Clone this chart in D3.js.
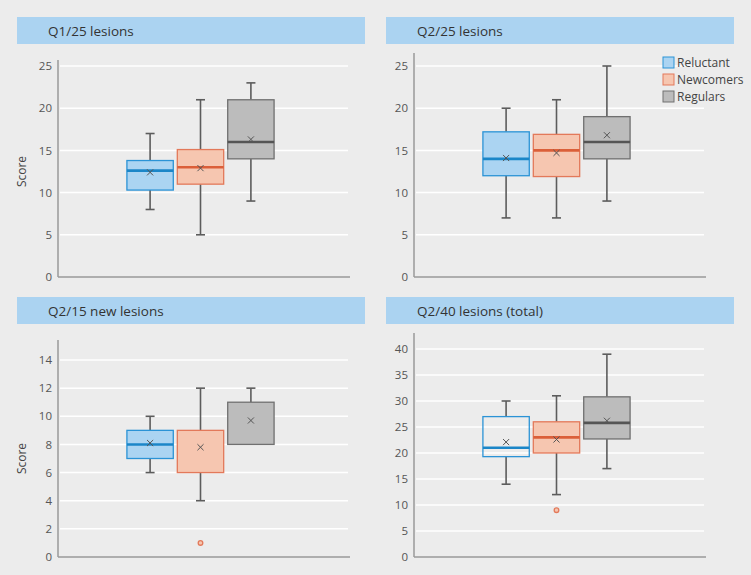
<!DOCTYPE html>
<html>
<head>
<meta charset="utf-8">
<script src="https://cdn.jsdelivr.net/npm/d3@7"></script>
<style>
  body { margin: 0; background: #ececec; }
  svg { display: block; }
</style>
</head>
<body>
<div id="chart"></div>
<script>
(function() {
  const width = 751
  const height = 575

  // groups and their colours
  const groups = ['Reluctant', 'Newcomers', 'Regulars']
  const fills = ['#abd4f2', '#f6c6b0', '#bcbcbc']
  const strokes = ['#2b93d6', '#e3795a', '#707070']
  const medianColors = ['#1b86c8', '#db5f39', '#555555']

  // panel titles and y ticks
  const titles = ['Q1/25 lesions', 'Q2/25 lesions', 'Q2/15 new lesions', 'Q2/40 lesions (total)']
  const yMaxes = [25, 25, 14, 40]
  const yTicks = [
    [0, 5, 10, 15, 20, 25],
    [0, 5, 10, 15, 20, 25],
    [0, 2, 4, 6, 8, 10, 12, 14],
    [0, 5, 10, 15, 20, 25, 30, 35, 40]
  ]

  // box stats per panel, one entry per group: [min, q1, median, q3, max]
  const q1_25 = [[8, 10.3, 12.6, 13.8, 17], [5, 11, 13, 15.1, 21], [9, 14, 16, 21, 23]]
  const q2_25 = [[7, 12, 14, 17.2, 20], [7, 11.9, 15, 16.9, 21], [9, 14, 16, 19, 25]]
  const q2_15 = [[6, 7, 8, 9, 10], [4, 6, 6, 9, 12], [8, 8, 8, 11, 12]]
  const q2_40 = [[14, 19.3, 21, 27, 30], [12, 20, 23, 26, 31], [17, 22.7, 25.8, 30.8, 39]]
  const stats = [q1_25, q2_25, q2_15, q2_40]

  // means (×) per panel
  const means = [[12.4, 12.9, 16.3], [14.1, 14.7, 16.8], [8.1, 7.8, 9.7], [22.1, 22.6, 26.2]]
  // outliers per panel: [groupIndex, value]
  const outliers = [[], [], [[1, 1]], [[1, 9]]]
  // Reluctant box in the last panel has no fill
  const noFill = [[], [], [], [0]]

  // panel geometry
  const panels = [
    { hx: 17, hy: 17, ax: 58, bottom: 277, top: 66, axisTop: 60, showScore: true },
    { hx: 386, hy: 17, ax: 414, bottom: 277, top: 66, axisTop: 53, showScore: false },
    { hx: 17, hy: 297, ax: 58, bottom: 557, top: 360, axisTop: 340, showScore: true },
    { hx: 386, hy: 297, ax: 414, bottom: 557, top: 349, axisTop: 333, showScore: false }
  ]
  const headerW = 348, headerH = 27, plotW = 292

  const svg = d3.select('#chart').append('svg')
      .attr('width', width)
      .attr('height', height)
      .attr('font-family', '"Open Sans", "Noto Sans", sans-serif')

  svg.append('rect').attr('width', width).attr('height', height).attr('fill', '#ececec')

  panels.forEach((p, i) => {
    const g = svg.append('g')

    // header band
    g.append('rect')
        .attr('x', p.hx).attr('y', p.hy)
        .attr('width', headerW).attr('height', headerH)
        .attr('fill', '#abd3f1')
    g.append('text')
        .attr('x', p.hx + 31).attr('y', p.hy + 18.5)
        .attr('font-size', 13.5)
        .attr('fill', '#333')
        .text(titles[i])

    const y = d3.scaleLinear().domain([0, yMaxes[i]]).range([p.bottom, p.top])
    const x = d3.scaleBand().domain(groups)
        .range([p.ax + plotW * 0.236, p.ax + plotW * 0.74])
        .paddingInner(0.08)

    // grid lines
    g.append('g').selectAll('line')
      .data(yTicks[i].filter(t => t > 0))
      .enter().append('line')
        .attr('x1', p.ax + 2).attr('x2', p.ax + plotW - 2)
        .attr('y1', d => y(d)).attr('y2', d => y(d))
        .attr('stroke', '#fff').attr('stroke-width', 1.5)

    // y axis
    const axis = g.append('g')
        .attr('transform', `translate(${p.ax},0)`)
        .call(d3.axisLeft(y).tickValues(yTicks[i]).tickSize(0).tickPadding(6))
    axis.select('.domain').remove()
    axis.selectAll('text').attr('font-size', 11.5).attr('fill', '#555').attr('font-family', '"Open Sans", sans-serif')

    g.append('line')
        .attr('x1', p.ax).attr('x2', p.ax)
        .attr('y1', p.axisTop).attr('y2', p.bottom)
        .attr('stroke', '#9a9a9a').attr('stroke-width', 1.5)
    g.append('line')
        .attr('x1', p.ax).attr('x2', p.ax + plotW)
        .attr('y1', p.bottom).attr('y2', p.bottom)
        .attr('stroke', '#9a9a9a').attr('stroke-width', 1.5)

    if (p.showScore) {
      g.append('text')
          .attr('transform', `translate(${p.ax - 32},${(p.bottom + p.top) / 2}) rotate(-90)`)
          .attr('text-anchor', 'middle')
          .attr('font-size', 12)
          .attr('fill', '#444')
          .text('Score')
    }

    // boxes
    const box = g.append('g').selectAll('g')
      .data(stats[i].map((s, k) => ({ s, k, name: groups[k] })))
      .enter().append('g')

    const cx = d => x(d.name) + x.bandwidth() / 2
    const capW = 4.5

    // whiskers
    box.append('line')
        .attr('x1', cx).attr('x2', cx)
        .attr('y1', d => y(d.s[0])).attr('y2', d => y(d.s[1]))
        .attr('stroke', '#5c5c5c').attr('stroke-width', 1.6)
    box.append('line')
        .attr('x1', cx).attr('x2', cx)
        .attr('y1', d => y(d.s[3])).attr('y2', d => y(d.s[4]))
        .attr('stroke', '#5c5c5c').attr('stroke-width', 1.6)
    box.filter(d => d.s[0] < d.s[1]).append('line')
        .attr('x1', d => cx(d) - capW).attr('x2', d => cx(d) + capW)
        .attr('y1', d => y(d.s[0])).attr('y2', d => y(d.s[0]))
        .attr('stroke', '#5c5c5c').attr('stroke-width', 1.6)
    box.filter(d => d.s[4] > d.s[3]).append('line')
        .attr('x1', d => cx(d) - capW).attr('x2', d => cx(d) + capW)
        .attr('y1', d => y(d.s[4])).attr('y2', d => y(d.s[4]))
        .attr('stroke', '#5c5c5c').attr('stroke-width', 1.6)

    box.append('rect')
        .attr('x', d => x(d.name))
        .attr('width', x.bandwidth())
        .attr('y', d => y(d.s[3]))
        .attr('height', d => y(d.s[1]) - y(d.s[3]))
        .attr('fill', d => noFill[i].includes(d.k) ? 'none' : fills[d.k])
        .attr('stroke', d => strokes[d.k])
        .attr('stroke-width', 1.3)

    // median (hidden under the box edge when it equals a quartile)
    box.filter(d => d.s[2] !== d.s[1] && d.s[2] !== d.s[3]).append('line')
        .attr('x1', d => x(d.name)).attr('x2', d => x(d.name) + x.bandwidth())
        .attr('y1', d => y(d.s[2])).attr('y2', d => y(d.s[2]))
        .attr('stroke', d => medianColors[d.k]).attr('stroke-width', 2.6)

    // mean marker
    box.append('path')
        .attr('transform', d => `translate(${cx(d)},${y(means[i][d.k])})`)
        .attr('d', d3.symbol(d3.symbolX, 26))
        .attr('fill', 'none')
        .attr('stroke', '#555').attr('stroke-width', 1)

    // outliers
    g.append('g').selectAll('circle')
      .data(outliers[i])
      .enter().append('circle')
        .attr('cx', d => x(groups[d[0]]) + x.bandwidth() / 2)
        .attr('cy', d => y(d[1]))
        .attr('r', 2.3)
        .attr('fill', '#f6c6b0')
        .attr('stroke', '#e3795a').attr('stroke-width', 1.3)
  })

  // legend in the second panel
  const legend = svg.append('g')
    .selectAll('g')
    .data(groups)
    .enter().append('g')
      .attr('transform', (d, k) => `translate(663,${57 + k * 17})`)
  legend.append('rect')
      .attr('width', 11).attr('height', 11)
      .attr('fill', (d, k) => fills[k])
      .attr('stroke', (d, k) => strokes[k]).attr('stroke-width', 1)
  legend.append('text')
      .attr('x', 14).attr('y', 10)
      .attr('font-size', 12)
      .attr('fill', '#444')
      .text(d => d)
})()
</script>
</body>
</html>
